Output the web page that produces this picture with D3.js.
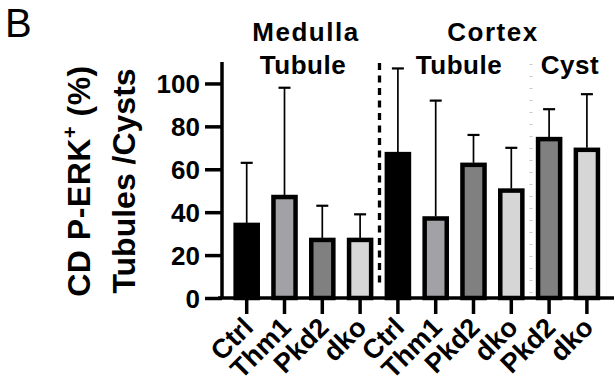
<!DOCTYPE html>
<html>
<head>
<meta charset="utf-8">
<script src="https://cdn.jsdelivr.net/npm/d3@7"></script>
<style>
body{margin:0;background:#fff;}
text{font-family:"Liberation Sans",Arial,sans-serif;}
</style>
</head>
<body>
<script>
// data
var groups=["Ctrl","Thm1","Pkd2","dko","Ctrl","Thm1","Pkd2","dko","Pkd2","dko"];
var means=[35,48,28,28,68,38,63,51,75,70];
var upper=[63,98,43,39,107,92,76,70,88,95];
var colors=["#000000","#a2a2a6","#808080","#d6d6d6","#000000","#a2a2a6","#808080","#d6d6d6","#808080","#d6d6d6"];
var yTicks=[0,20,40,60,80,100];

var width=614, height=385;
var svg=d3.select("body").append("svg")
    .attr("width",width).attr("height",height);

var x0=222, y0=298;
var x=d3.scaleBand().domain(d3.range(groups.length))
    .range([227.8,605.8]).paddingInner(0.31).paddingOuter(0.155);
var y=d3.scaleLinear().domain([0,110]).range([y0,62]);

// separators between the sections
svg.append("line").attr("x1",379.5).attr("x2",379.5).attr("y1",63).attr("y2",y0-10)
    .attr("stroke","#000").attr("stroke-width",3.3).attr("stroke-dasharray","7,5.5");
svg.append("line").attr("x1",531).attr("x2",531).attr("y1",64).attr("y2",y0-4)
    .attr("stroke","#c8c8c8").attr("stroke-width",3).attr("stroke-dasharray","1,11");

// error bars (upper only)
var eb=svg.append("g");
eb.selectAll("line.v").data(groups).enter().append("line")
    .attr("x1",function(d,i){return x(i)+x.bandwidth()/2;})
    .attr("x2",function(d,i){return x(i)+x.bandwidth()/2;})
    .attr("y1",function(d,i){return y(means[i]);})
    .attr("y2",function(d,i){return y(upper[i]);})
    .attr("stroke","#000").attr("stroke-width",1.7);
eb.selectAll("line.c").data(groups).enter().append("line")
    .attr("x1",function(d,i){return x(i)+x.bandwidth()/2-6;})
    .attr("x2",function(d,i){return x(i)+x.bandwidth()/2+6;})
    .attr("y1",function(d,i){return y(upper[i]);})
    .attr("y2",function(d,i){return y(upper[i]);})
    .attr("stroke","#000").attr("stroke-width",2.2);

// bars
svg.append("g").selectAll("rect").data(means).enter().append("rect")
    .attr("x",function(d,i){return x(i)+2;})
    .attr("y",function(d){return y(d)+2;})
    .attr("width",x.bandwidth()-4)
    .attr("height",function(d){return y0-y(d)-2;})
    .attr("fill",function(d,i){return colors[i];})
    .attr("stroke","#000").attr("stroke-width",4.5);

// y axis
var yAxis=svg.append("g").attr("transform","translate("+x0+",0)")
    .call(d3.axisLeft(y).tickValues(yTicks).tickSize(17).tickPadding(5));
yAxis.select(".domain").attr("d","M0,"+y(110)+"V"+y0).attr("stroke-width",3.5);
yAxis.selectAll(".tick line").attr("stroke-width",3.5);
yAxis.selectAll(".tick text").style("font-size","26px").style("font-weight","bold")
    .style("font-family","Liberation Sans, Arial, sans-serif").attr("dy","0.36em");

// x axis
var xAxis=svg.append("g").attr("transform","translate(0,"+y0+")")
    .call(d3.axisBottom(x).tickSize(16).tickFormat(function(i){return groups[i];}));
xAxis.select(".domain").attr("d","M"+(x0-4)+",0H"+width).attr("stroke-width",3.5);
xAxis.selectAll(".tick line").attr("stroke-width",3.5);
xAxis.selectAll(".tick text")
    .style("font-size","27px").style("font-weight","bold")
    .style("font-family","Liberation Sans, Arial, sans-serif")
    .attr("text-anchor","end").attr("dy",0).attr("y",0).attr("x",0)
    .attr("transform","translate(8,31) rotate(-45)");

// y label, two lines
var yl=svg.append("text").attr("transform","translate(90,181) rotate(-90)")
    .attr("text-anchor","middle").style("font-size","32px").style("font-weight","bold")
    .style("letter-spacing","0.5px");
yl.append("tspan").text("CD P-ERK");
yl.append("tspan").text("+").attr("dy",-13).style("font-size","20px");
yl.append("tspan").text(" (%)").attr("dy",13);
svg.append("text").attr("transform","translate(135,181) rotate(-90)")
    .attr("text-anchor","middle").style("font-size","32px").style("font-weight","bold")
    .text("Tubules /Cysts");

// panel letter and section headers
svg.append("text").attr("x",5).attr("y",37).style("font-size","40px").text("B");
var heads=[["Medulla",306,41,1.5],["Tubule",303,74,0.5],["Cortex",493,41,1.5],["Tubule",459,74,0.5],["Cyst",570,74,0.5]];
svg.selectAll("text.head").data(heads).enter().append("text")
    .attr("x",function(d){return d[1];}).attr("y",function(d){return d[2];})
    .attr("text-anchor","middle").style("font-size","26px").style("font-weight","bold")
    .style("letter-spacing",function(d){return d[3]+"px";}).text(function(d){return d[0];});
</script>
</body>
</html>
